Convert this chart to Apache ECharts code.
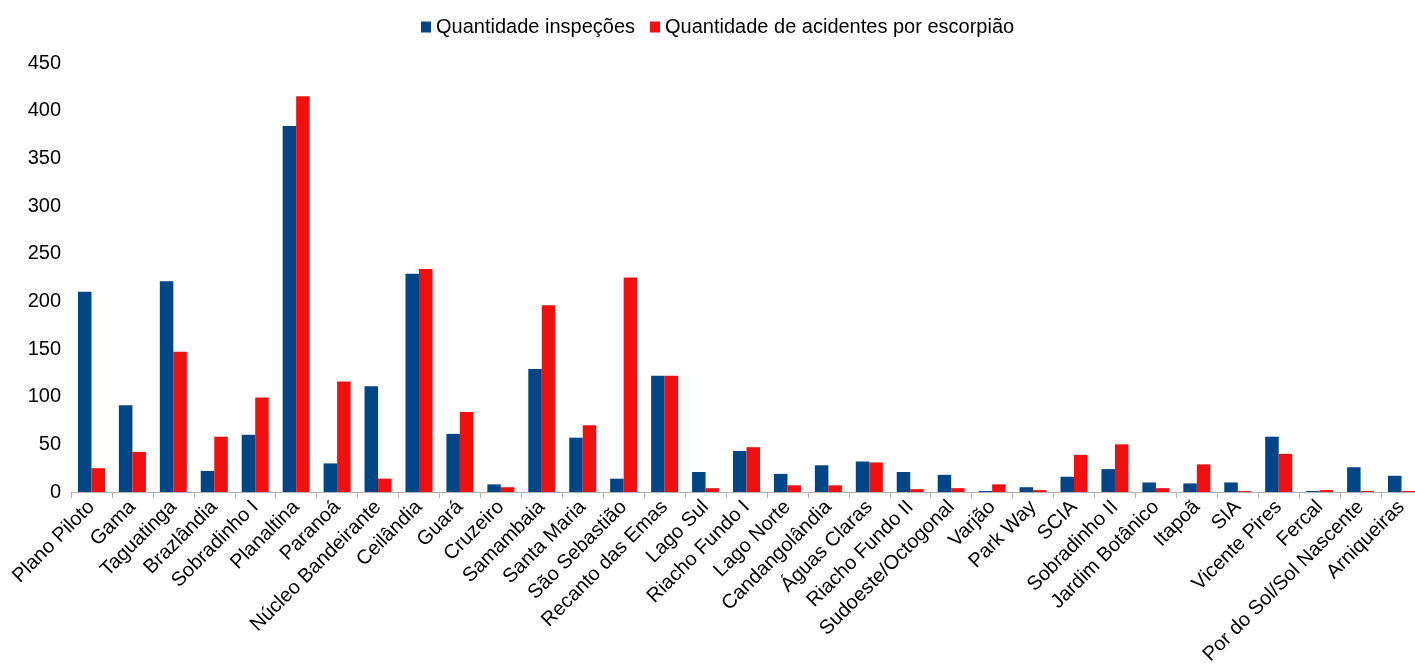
<!DOCTYPE html>
<html>
<head>
<meta charset="utf-8">
<script src="https://cdn.jsdelivr.net/npm/echarts@6/dist/echarts.min.js"></script>
<style>
html,body{margin:0;padding:0;background:#fff;}
#chart{width:1415px;height:666px;}
</style>
</head>
<body>
<div id="chart"></div>
<script>
const categories = ["Plano Piloto","Gama","Taguatinga","Brazlândia","Sobradinho I","Planaltina","Paranoá","Núcleo Bandeirante","Ceilândia","Guará","Cruzeiro","Samambaia","Santa Maria","São Sebastião","Recanto das Emas","Lago Sul","Riacho Fundo I","Lago Norte","Candangolândia","Águas Claras","Riacho Fundo II","Sudoeste/Octogonal","Varjão","Park Way","SCIA","Sobradinho II","Jardim Botânico","Itapoã","SIA","Vicente Pires","Fercal","Por do Sol/Sol Nascente","Arniqueiras"];
const inspecoes = [210, 91, 221, 22, 60, 384, 30, 111, 229, 61, 8, 129, 57, 14, 122, 21, 43, 19, 28, 32, 21, 18, 1, 5, 16, 24, 10, 9, 10, 58, 1, 26, 17];
const acidentes = [25, 42, 147, 58, 99, 415, 116, 14, 234, 84, 5, 196, 70, 225, 122, 4, 47, 7, 7, 31, 3, 4, 8, 2, 39, 50, 4, 29, 1, 40, 2, 1, 1];
const seriesNames = ["Quantidade inspeções", "Quantidade de acidentes por escorpião"];
const yTicks = {min: 0, max: 450, interval: 50};

const font = "'Liberation Sans', Arial, sans-serif";
const chart = echarts.init(document.getElementById('chart'), null, {renderer: 'canvas'});
chart.setOption({
  animation: false,
  backgroundColor: '#ffffff',
  textStyle: {fontFamily: font},
  legend: {
    top: 12,
    left: 416,
    icon: 'rect',
    itemWidth: 10,
    itemHeight: 11,
    itemGap: 15,
    textStyle: {fontSize: 20, color: '#000', fontFamily: font},
    data: seriesNames
  },
  grid: {
    left: 71,
    top: 63,
    width: 1351,
    bottom: 174,
    containLabel: false,
    outerBoundsMode: 'none'
  },
  xAxis: {
    type: 'category',
    data: categories,
    axisLine: {show: true, lineStyle: {color: '#b3b3b3', width: 1}},
    axisTick: {show: true, length: 6, lineStyle: {color: '#b3b3b3'}},
    axisLabel: {
      interval: 0,
      rotate: 45,
      fontSize: 20,
      color: '#000',
      fontFamily: font,
      margin: 12
    },
    splitLine: {show: false}
  },
  yAxis: {
    type: 'value',
    min: yTicks.min,
    max: yTicks.max,
    interval: yTicks.interval,
    axisLine: {show: false},
    axisTick: {show: false},
    splitLine: {show: false},
    axisLabel: {fontSize: 20, color: '#000', fontFamily: font, margin: 10}
  },
  series: [
    {
      name: seriesNames[0],
      type: 'bar',
      data: inspecoes,
      barGap: '0%',
      barCategoryGap: '34%',
      itemStyle: {color: '#004586'}
    },
    {
      name: seriesNames[1],
      type: 'bar',
      data: acidentes,
      itemStyle: {color: '#f20f0f'}
    }
  ]
});
</script>
</body>
</html>
